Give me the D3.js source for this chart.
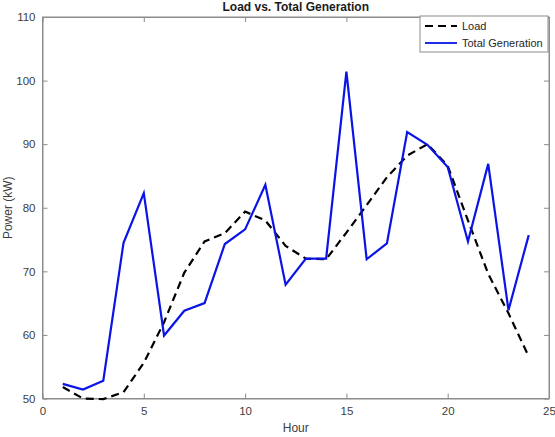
<!DOCTYPE html>
<html><head><meta charset="utf-8">
<script src="https://cdn.jsdelivr.net/npm/d3@7"></script>
<style>body{margin:0;background:#fff}svg{display:block}text{font-family:"Liberation Sans",Arial,sans-serif}</style>
</head><body><div id="c"></div>
<script>
const hours = [1,2,3,4,5,6,7,8,9,10,11,12,13,14,15,16,17,18,19,20,21,22,23,24];
const load = [51.8,50.0,49.9,51.0,55.6,62.0,69.8,74.7,76.0,79.4,78.0,74.0,72.0,71.9,76.1,80.4,84.8,88.2,90.0,86.6,78.0,69.6,63.4,56.6];
const totalGen = [52.3,51.4,52.8,74.5,82.3,59.9,63.8,65.0,74.3,76.6,83.6,67.9,72.0,72.0,101.4,71.9,74.4,91.9,89.9,86.4,74.7,86.9,63.9,75.7];
const xTicks = [0,5,10,15,20,25];
const yTicks = [50,60,70,80,90,100,110];
const W=555,H=437, L=42.5, R=549, T=17, B=398.5;
const svg=d3.select("#c").append("svg").attr("width",W).attr("height",H);
const x=d3.scaleLinear().domain([0,25]).range([L,R]);
const y=d3.scaleLinear().domain([50,110]).range([B,T]);
const axCol="#8c8c8c", txtCol="#404040";
// box
svg.append("rect").attr("x",L).attr("y",T).attr("width",R-L).attr("height",B-T).attr("fill","#fff").attr("stroke",axCol).attr("stroke-width",1);
// axes
const gb=svg.append("g").attr("transform",`translate(0,${B})`).call(d3.axisBottom(x).tickValues(xTicks).tickSizeInner(-5).tickSizeOuter(0).tickPadding(8));
const gt=svg.append("g").attr("transform",`translate(0,${T})`).call(d3.axisTop(x).tickValues(xTicks).tickSizeInner(-5).tickSizeOuter(0).tickFormat(""));
const gl=svg.append("g").attr("transform",`translate(${L},0)`).call(d3.axisLeft(y).tickValues(yTicks).tickSizeInner(-5).tickSizeOuter(0).tickPadding(7));
const gr=svg.append("g").attr("transform",`translate(${R},0)`).call(d3.axisRight(y).tickValues(yTicks).tickSizeInner(-5).tickSizeOuter(0).tickFormat(""));
[gb,gt,gl,gr].forEach(g=>{g.select(".domain").attr("stroke",axCol);g.selectAll(".tick line").attr("stroke",axCol);g.selectAll("text").attr("fill",txtCol).attr("font-size",11.5).attr("font-family","Liberation Sans, Arial, sans-serif");});
// lines
const line=(arr)=>d3.line().x((d,i)=>x(hours[i])).y(d=>y(d))(arr);
svg.append("path").attr("d",line(load)).attr("fill","none").attr("stroke","#000").attr("stroke-width",2.2).attr("stroke-dasharray","8,5");
svg.append("path").attr("d",line(totalGen)).attr("fill","none").attr("stroke","#0a14e6").attr("stroke-width",2.2).attr("stroke-linejoin","miter");
// title and labels
svg.append("text").attr("x",(L+R)/2).attr("y",11).attr("text-anchor","middle").attr("font-weight","bold").attr("font-size",12).attr("fill","#1a1a1a").text("Load vs. Total Generation");
svg.append("text").attr("x",(L+R)/2).attr("y",432).attr("text-anchor","middle").attr("font-size",12).attr("fill",txtCol).text("Hour");
svg.append("text").attr("transform",`translate(12,${(T+B)/2}) rotate(-90)`).attr("text-anchor","middle").attr("font-size",12).attr("fill",txtCol).text("Power (kW)");
// legend
const lg=svg.append("g");
lg.append("rect").attr("x",420).attr("y",16).attr("width",128).attr("height",36).attr("fill","#fff").attr("stroke",axCol).attr("stroke-width",1);
lg.append("line").attr("x1",425).attr("x2",457).attr("y1",26).attr("y2",26).attr("stroke","#000").attr("stroke-width",2.2).attr("stroke-dasharray","8,5");
lg.append("line").attr("x1",425).attr("x2",457).attr("y1",43).attr("y2",43).attr("stroke","#0a14e6").attr("stroke-width",1.8);
lg.append("text").attr("x",462).attr("y",30).attr("font-size",11).attr("fill","#262626").text("Load");
lg.append("text").attr("x",462).attr("y",47).attr("font-size",11).attr("fill","#262626").text("Total Generation");
</script></body></html>
